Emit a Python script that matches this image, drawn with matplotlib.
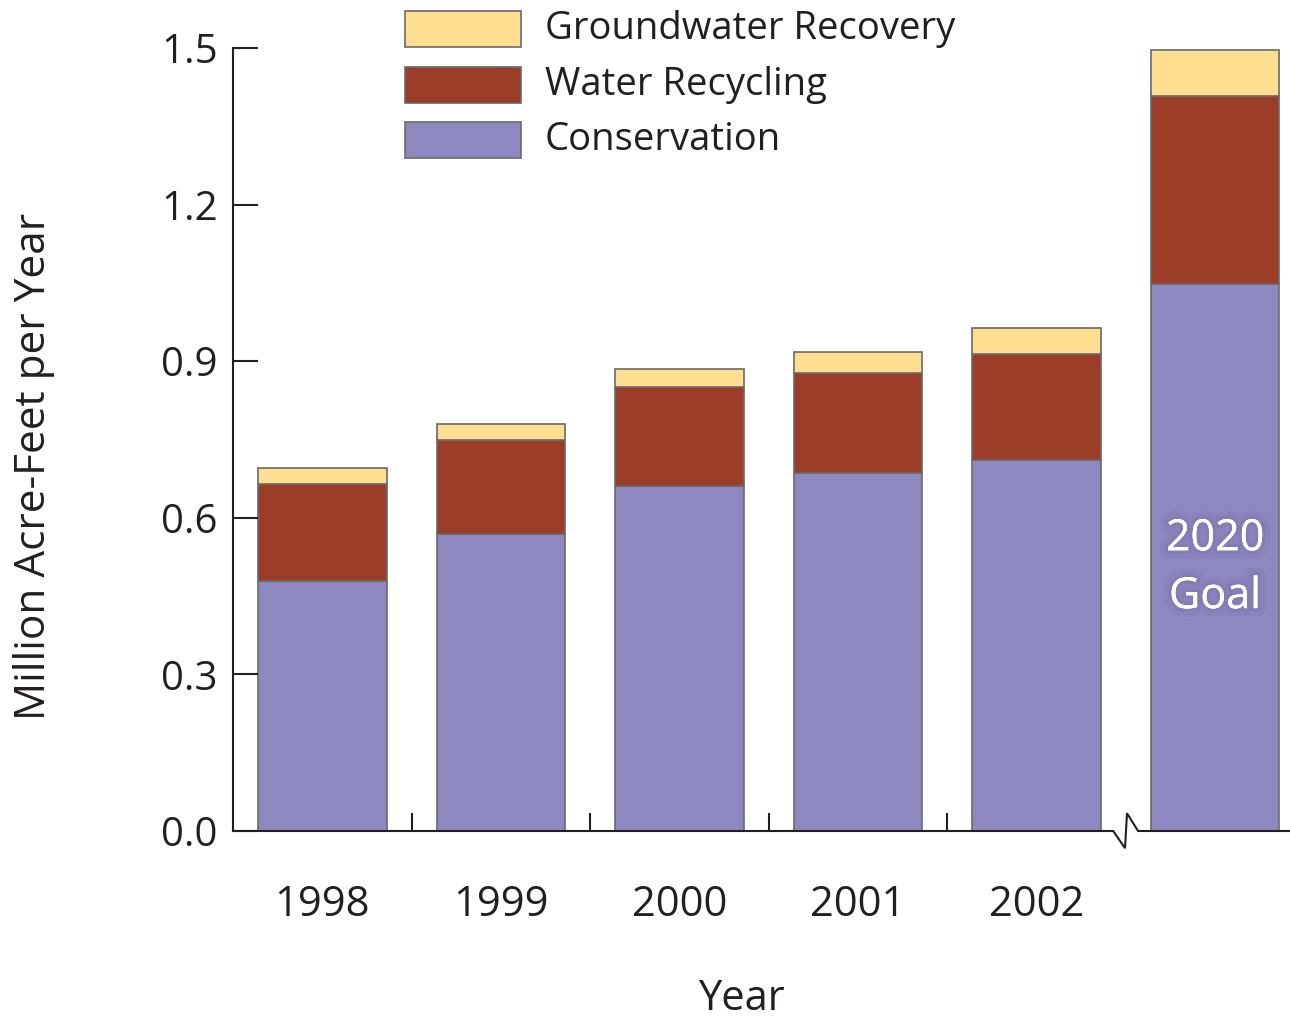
import matplotlib
matplotlib.use("Agg")
from matplotlib import pyplot as plt
from matplotlib.patches import Rectangle
import matplotlib.patheffects as pe
import numpy as np

plt.rcParams['font.family'] = ['Open Sans', 'DejaVu Sans']

# data (million acre-feet per year)
years = ['1998', '1999', '2000', '2001', '2002', '']
conservation = [0.479, 0.569, 0.661, 0.686, 0.711, 1.048]
recycling = [0.186, 0.180, 0.190, 0.191, 0.203, 0.360]
groundwater = [0.030, 0.031, 0.034, 0.041, 0.050, 0.088]

series_names = ['Groundwater Recovery', 'Water Recycling', 'Conservation']
colors = {'Conservation': '#8e88c0', 'Water Recycling': '#9c3d27',
          'Groundwater Recovery': '#fddf8f'}

dark = '#231f20'
edge = '#6a6a6a'

fig = plt.figure(figsize=(12.9, 10.22), dpi=100)
ax = fig.add_axes([0.1806, 0.1869, 1 - 0.1806, 0.953 - 0.1869])

x = np.arange(len(years))
w = 0.72
ax.bar(x, conservation, w, color=colors['Conservation'], edgecolor=edge, linewidth=1.2)
ax.bar(x, recycling, w, bottom=conservation, color=colors['Water Recycling'],
       edgecolor=edge, linewidth=1.2)
bottom2 = np.array(conservation) + np.array(recycling)
ax.bar(x, groundwater, w, bottom=bottom2, color=colors['Groundwater Recovery'],
       edgecolor=edge, linewidth=1.2)

ax.set_xlim(-0.5, 5.42)
ax.set_ylim(0, 1.5)

# spines
for s in ['top', 'right', 'bottom']:
    ax.spines[s].set_visible(False)
ax.spines['left'].set_color(dark)
ax.spines['left'].set_linewidth(1.5)

# bottom axis with break
ax.plot([-0.5, 4.43, 4.496, 4.507, 4.569, 5.42],
        [0, 0, -0.033, 0.034, 0, 0], color=dark, lw=1.5,
        clip_on=False, solid_joinstyle='miter', zorder=5)

# y ticks
ax.set_yticks([0, 0.3, 0.6, 0.9, 1.2, 1.5])
ax.set_yticklabels(['0.0', '0.3', '0.6', '0.9', '1.2', '1.5'])
ax.tick_params(axis='y', direction='in', length=18, width=1.5, color=dark,
               labelsize=29, labelcolor=dark, pad=11)

# x ticks: marks between bars, labels under bars
ax.set_xticks([0.5, 1.5, 2.5, 3.5])
ax.set_xticklabels([])
ax.tick_params(axis='x', which='major', direction='in', length=13, width=1.5, color=dark)
ax.set_xticks(x[:5], minor=True)
ax.set_xticklabels(years[:5], minor=True)
ax.tick_params(axis='x', which='minor', length=0, labelsize=30, labelcolor=dark, pad=38)

ax.set_xlabel('Year', fontsize=30, color=dark)
ax.xaxis.set_label_coords(0.4806, -0.188)
ax.set_ylabel('Million Acre-Feet per Year', fontsize=30.5, color=dark)
ax.yaxis.set_label_coords(-0.168, 0.466)

# 2020 goal label
ax.text(5, 0.504, '2020\nGoal', ha='center', va='center', fontsize=31,
        color='white', linespacing=1.4,
        path_effects=[pe.withStroke(linewidth=12, foreground='#6f69a3', alpha=0.15),
                      pe.withStroke(linewidth=5, foreground='#6f69a3', alpha=0.2),
                      pe.Normal()])

# legend
leg_y = [29, 85, 140]
for name, yc in zip(series_names, leg_y):
    y0 = 1 - (yc + 18) / 1022
    fig.add_artist(Rectangle((405 / 1290, y0), 116 / 1290, 36 / 1022,
                             transform=fig.transFigure, facecolor=colors[name],
                             edgecolor=edge, linewidth=1.2))
    fig.text(545 / 1290, 1 - yc / 1022, name, fontsize=27.5, color=dark,
             va='center', ha='left')

plt.savefig('out.png', dpi=100)
